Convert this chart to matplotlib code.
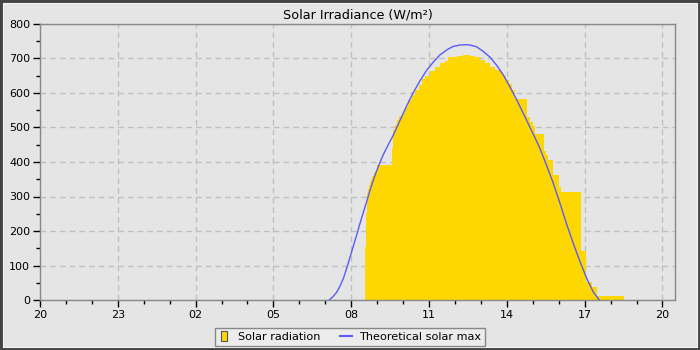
import matplotlib
matplotlib.use("Agg")
import matplotlib.pyplot as plt
import matplotlib.dates as mdates
from matplotlib.patches import Rectangle
from matplotlib.lines import Line2D
from matplotlib.path import Path
import pandas as pd

# measured solar radiation, step values (start time of each step, W/m2)
rad_times = ["08:32", "08:34", "08:36", "08:38", "08:41", "08:44", "08:46", "08:48",
             "08:53", "08:59", "09:34", "09:36", "09:41", "09:46", "09:50", "09:57",
             "10:04", "10:11", "10:20", "10:27", "10:37", "10:44", "10:50", "11:02",
             "11:14", "11:25", "11:37", "11:44", "12:05", "12:18", "12:35", "12:46",
             "12:58", "13:09", "13:21", "13:32", "13:44", "13:51", "13:58", "14:05",
             "14:12", "14:19", "14:46", "14:53", "15:01", "15:05", "15:26", "15:30",
             "15:35", "15:47", "16:01", "16:05", "16:51", "17:03", "17:16", "17:28",
             "18:31"]
rad_values = [155, 253, 311, 322, 332, 343, 352, 358,
              371, 390, 440, 492, 507, 521, 533, 542,
              560, 579, 594, 608, 623, 642, 649, 664,
              674, 688, 693, 703, 707, 710, 707, 703,
              695, 688, 676, 666, 660, 650, 638, 625,
              610, 582, 529, 516, 505, 480, 431, 420,
              405, 361, 327, 313, 142, 52, 37, 11,
              0]

# theoretical clear-sky maximum
theo_times = ["07:09", "07:18", "07:26", "07:34", "07:42", "07:49", "07:57", "08:05",
              "08:13", "08:20", "08:28", "08:36", "08:43", "08:51", "08:59", "09:07",
              "09:14", "09:22", "09:37", "09:53", "10:08", "10:23", "10:39", "10:54",
              "11:10", "11:25", "11:41", "11:56", "12:11", "12:23", "12:35", "12:50",
              "13:05", "13:21", "13:36", "13:52", "14:07", "14:23", "14:38", "14:53",
              "15:09", "15:17", "15:32", "15:47", "16:03", "16:18", "16:34", "16:49",
              "17:05", "17:20", "17:34"]
theo_values = [0, 10, 22, 40, 63, 90, 123, 157,
               190, 221, 254, 286, 316, 347, 375, 400,
               421, 441, 477, 521, 562, 600, 635, 665,
               690, 710, 725, 735, 739, 740, 739, 734,
               721, 704, 681, 652, 618, 580, 541, 502,
               460, 438, 390, 340, 280, 221, 163, 112,
               62, 23, 0]

day = "2024-06-02 "
rad_t = pd.to_datetime([day + t for t in rad_times])
theo_t = pd.to_datetime([day + t for t in theo_times])
x_start = pd.Timestamp("2024-06-01 20:00")
x_end = pd.Timestamp("2024-06-02 20:29")

bg = "#e5e5e5"
gold = "#FFD700"
blue = "#5a5aff"

fig = plt.figure(figsize=(7, 3.5), dpi=100, facecolor=bg)
ax = fig.add_axes([40 / 700, 50 / 350, 635 / 700, 276 / 350])
ax.set_facecolor(bg)

ax.fill_between(rad_t, rad_values, step="post", color=gold, linewidth=0, zorder=2)
ax.plot(theo_t, theo_values, color=blue, linewidth=1, zorder=3)

ax.set_xlim(x_start, x_end)
ax.set_ylim(0, 800)
ax.xaxis.set_major_locator(mdates.HourLocator(byhour=[20, 23, 2, 5, 8, 11, 14, 17]))
ax.xaxis.set_minor_locator(mdates.HourLocator())
ax.xaxis.set_major_formatter(mdates.DateFormatter("%H"))
ax.yaxis.set_major_locator(plt.MultipleLocator(100))
ax.yaxis.set_minor_locator(plt.MultipleLocator(50))

ax.grid(True, which="major", color="#c0c0c0", linestyle=(0, (4, 3)), linewidth=1, zorder=1)
ax.set_axisbelow(True)
for s in ax.spines.values():
    s.set_color("#888888")
    s.set_linewidth(1)
ax.tick_params(which="major", length=5, width=1, color="black", labelsize=8, pad=2)
ax.tick_params(which="minor", length=3, width=1, color="black")

ax.set_title("Solar Irradiance (W/m²)", fontsize=9.2, pad=4)

# narrow upright box for the radiation legend key
box = Path([(-0.33, -0.5), (0.33, -0.5), (0.33, 0.5), (-0.33, 0.5), (-0.33, -0.5)],
           [Path.MOVETO, Path.LINETO, Path.LINETO, Path.LINETO, Path.CLOSEPOLY])
handles = [Line2D([], [], linestyle="none", marker=box, markersize=7.5,
                  markerfacecolor=gold, markeredgecolor="#555555", markeredgewidth=0.8),
           Line2D([], [], color=blue, linewidth=1.5)]
leg = fig.legend(handles, ["Solar radiation", "Theoretical solar max"], loc="center",
                 bbox_to_anchor=(0.5, 13 / 350), ncol=2, fontsize=8.1, frameon=True,
                 fancybox=False, edgecolor="#888888", facecolor="#ececec", framealpha=1,
                 handlelength=1.0, handletextpad=0.7, columnspacing=1.8,
                 borderpad=0.35)
leg.get_frame().set_linewidth(1)

fig.patches.append(Rectangle((0, 0), 1, 1, transform=fig.transFigure, fill=False,
                             edgecolor="#444444", linewidth=3.5))
fig.patches.append(Rectangle((2.8 / 700, 2.8 / 350), 694.4 / 700, 344.4 / 350,
                             transform=fig.transFigure, fill=False,
                             edgecolor="#f4f4f4", linewidth=0.7))

fig.savefig("out.png", dpi=100, facecolor=bg)
